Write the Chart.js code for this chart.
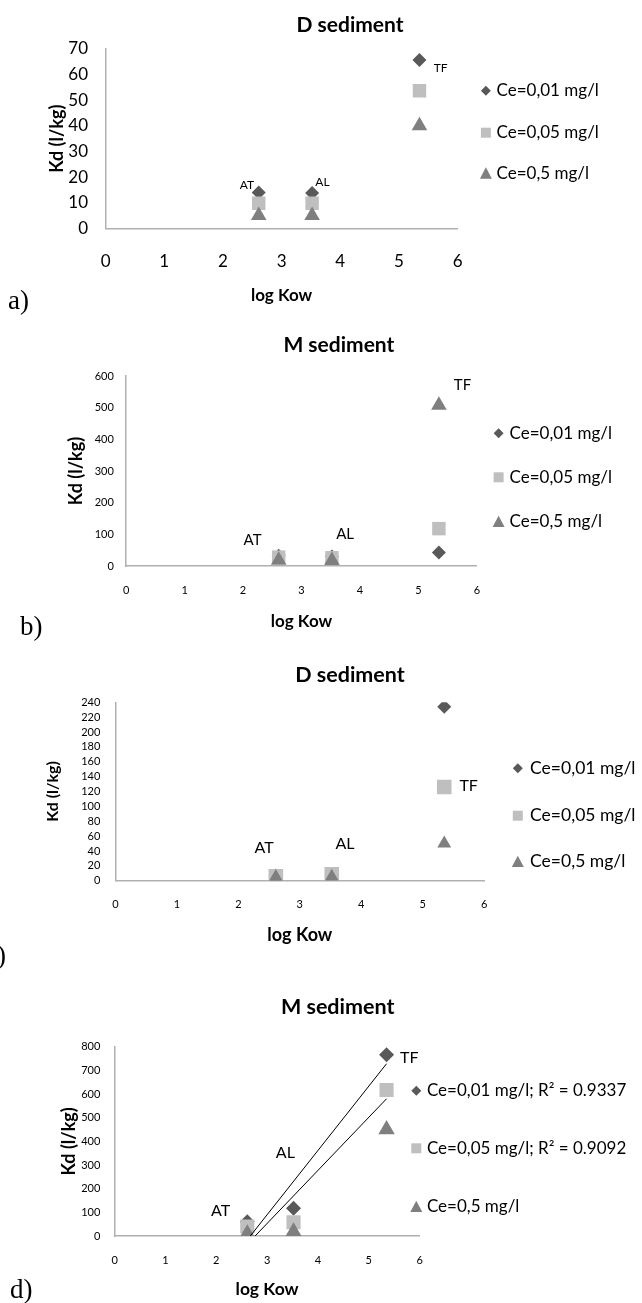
<!DOCTYPE html>
<html>
<head>
<meta charset="utf-8">
<title>Kd vs log Kow</title>
<script src="https://cdn.jsdelivr.net/npm/chart.js@4.4.1/dist/chart.umd.min.js"></script>
<style>
  body { margin: 0; background: #fff; width: 642px; height: 1303px; position: relative; overflow: hidden; }
  canvas { position: absolute; left: 0; }
</style>
</head>
<body>
<canvas id="chartA" width="642" height="320" style="top:0px"></canvas>
<canvas id="chartB" width="642" height="340" style="top:320px"></canvas>
<canvas id="chartC" width="642" height="315" style="top:660px"></canvas>
<canvas id="chartD" width="642" height="343" style="top:960px"></canvas>
<script>
// compounds and their log Kow
const compounds = ["AT", "AL", "TF"];
const logKow = [2.61, 3.52, 5.35];

const seriesNames = ["Ce=0,01 mg/l", "Ce=0,05 mg/l", "Ce=0,5 mg/l"];
const seriesNamesFit = ["Ce=0,01 mg/l; R\u00b2 = 0.9337", "Ce=0,05 mg/l; R\u00b2 = 0.9092", "Ce=0,5 mg/l"];

// a) D sediment
const kdA001 = [14, 13.8, 65.7];
const kdA005 = [9.8, 9.8, 53.7];
const kdA05 = [5, 5, 40];
// b) M sediment
const kdB001 = [32, 30, 43];
const kdB005 = [28, 26, 118];
const kdB05 = [18, 17, 508];
// c) D sediment
const kdC001 = [7, 9, 234];
const kdC005 = [6, 8.6, 126];
const kdC05 = [5, 5.4, 50];
// d) M sediment
const kdD001 = [60, 117, 766];
const kdD005 = [40, 58, 617];
const kdD05 = [10, 18, 450];

const FONT = "Lato";
const markerStyles = ["rectRot", "rect", "triangle"];
const markerColors = ["#595959", "#bfbfbf", "#7f7f7f"];
const axisColor = "#b0b0b0";

// least squares line over the x range of the data (excel linear trendline)
function trendLine(xs, ys) {
    const n = xs.length;
    const mx = xs.reduce((s, v) => s + v, 0) / n;
    const my = ys.reduce((s, v) => s + v, 0) / n;
    let sxy = 0, sxx = 0;
    xs.forEach((x, i) => {
        sxy += (x - mx) * (ys[i] - my);
        sxx += (x - mx) * (x - mx);
    });
    const slope = sxy / sxx;
    const b = my - slope * mx;
    return [xs[0], xs[n - 1]].map(x => ({ x: x, y: b + slope * x }));
}

function legendMarker(ctx, style, x, y, r) {
    ctx.beginPath();
    if (style === "rectRot") {
        ctx.moveTo(x, y - r); ctx.lineTo(x + r, y); ctx.lineTo(x, y + r); ctx.lineTo(x - r, y);
    } else if (style === "rect") {
        ctx.rect(x - r, y - r, 2 * r, 2 * r);
    } else {
        ctx.moveTo(x, y - r); ctx.lineTo(x + r, y + r * 0.9); ctx.lineTo(x - r, y + r * 0.9);
    }
    ctx.closePath();
    ctx.fill();
}

// title, legend, compound labels and panel letter
function overlay(p) {
    return {
        id: "overlay",
        afterDraw(chart) {
            const ctx = chart.ctx;
            const top = p.top;
            ctx.save();
            ctx.fillStyle = "#000";
            ctx.textBaseline = "middle";

            ctx.textAlign = "center";
            ctx.font = "bold " + p.titleSize + "px " + FONT;
            ctx.fillText(p.title, p.titleX, p.titleY - top);

            p.legendY.forEach((ly, i) => {
                ctx.fillStyle = markerColors[i];
                legendMarker(ctx, markerStyles[i], p.legendX, ly - top, p.legendR[i]);
                ctx.fillStyle = "#000";
                ctx.textAlign = "left";
                ctx.font = p.legendSize + "px " + FONT;
                ctx.fillText(p.names[i], p.legendTextX, ly - top);
            });

            const xs = chart.scales.x, ys = chart.scales.y;
            ctx.textAlign = "center";
            ctx.font = p.labelSize + "px " + FONT;
            p.labels.forEach(([si, dx, dy], i) => {
                const px = xs.getPixelForValue(logKow[i]) + dx;
                const py = ys.getPixelForValue(p.series[si][i]) + dy;
                ctx.fillText(compounds[i], px, py);
            });

            ctx.textAlign = "left";
            ctx.font = p.letterSize + "px 'Liberation Serif'";
            ctx.fillText(p.letter, p.letterX, p.letterY - top);
            ctx.restore();
        }
    };
}

function makePanel(id, p) {
    const a = p.area;
    const tickLh = p.tickSize * 1.2;
    const xTitleLh = p.xTitleSize * 1.2;
    const yTitleLh = p.yTitleSize * 1.2;
    const xScaleH = p.xTitleY - a.bottom + xTitleLh / 2;

    const datasets = p.series.map((vals, i) => ({
        label: p.names[i],
        data: vals.map((v, j) => ({ x: logKow[j], y: v })),
        pointStyle: markerStyles[i],
        pointRadius: p.markerR[i],
        backgroundColor: markerColors[i],
        borderColor: markerColors[i],
        borderWidth: 0,
        order: 2 - i
    }));
    (p.fits || []).forEach(si => {
        datasets.push({
            label: "trend " + si,
            data: trendLine(logKow, p.series[si]),
            showLine: true,
            pointRadius: 0,
            borderColor: "#000",
            borderWidth: 1,
            order: -1
        });
    });

    new Chart(document.getElementById(id), {
        type: "scatter",
        data: { datasets: datasets },
        options: {
            responsive: false,
            animation: false,
            events: [],
            layout: {
                padding: {
                    left: 0,
                    top: a.top - p.top,
                    right: 642 - a.right,
                    bottom: p.height - (a.bottom - p.top) - xScaleH
                }
            },
            plugins: { legend: { display: false }, tooltip: { enabled: false } },
            scales: {
                x: {
                    type: "linear",
                    min: 0, max: 6,
                    ticks: {
                        stepSize: 1, maxRotation: 0, color: "#000",
                        font: { family: FONT, size: p.tickSize },
                        padding: p.xTickY - a.bottom - tickLh / 2
                    },
                    grid: { display: false, drawTicks: false },
                    border: { color: axisColor, width: 1.5 },
                    title: {
                        display: true, text: "log Kow", color: "#000",
                        font: { family: FONT, size: p.xTitleSize, weight: "bold" },
                        padding: { top: 0, bottom: 0 }
                    },
                    afterFit(s) { s.height = xScaleH; }
                },
                y: {
                    min: 0, max: p.yMax,
                    ticks: {
                        stepSize: p.yStep, autoSkip: false, color: "#000",
                        font: { family: FONT, size: p.tickSize },
                        padding: a.left - p.yTickRight
                    },
                    grid: { display: false, drawTicks: false },
                    border: { color: axisColor, width: 1.5 },
                    title: {
                        display: true, text: "Kd (l/kg)", color: "#000",
                        font: { family: FONT, size: p.yTitleSize, weight: "bold" },
                        padding: { top: p.yTitleX - yTitleLh / 2, bottom: 0 }
                    },
                    afterFit(s) { s.width = a.left; }
                }
            }
        },
        plugins: [overlay(p)]
    });
}

makePanel("chartA", {
    top: 0, height: 320,
    area: { left: 105.6, right: 457.6, top: 49, bottom: 228.3 },
    series: [kdA001, kdA005, kdA05], names: seriesNames,
    yMax: 70, yStep: 10,
    tickSize: 17, yTickRight: 88, xTickY: 261.7,
    xTitleSize: 17, xTitleY: 296, yTitleSize: 18, yTitleX: 57.3,
    title: "D sediment", titleSize: 21, titleX: 350, titleY: 25,
    markerR: [7, 9.5, 9],
    legendX: 485.9, legendTextX: 496.5, legendY: [90.7, 132.7, 173.3], legendR: [5, 5, 6], legendSize: 17,
    labelSize: 12, labels: [[0, -11.9, -7.3], [0, 10.3, -10.4], [0, 21.2, 8.3]],
    letter: "a)", letterSize: 27, letterX: 8, letterY: 302
});

makePanel("chartB", {
    top: 320, height: 340,
    area: { left: 126.1, right: 476.9, top: 376, bottom: 566 },
    series: [kdB001, kdB005, kdB05], names: seriesNames,
    yMax: 600, yStep: 100,
    tickSize: 11, yTickRight: 113.8, xTickY: 590,
    xTitleSize: 17, xTitleY: 621.7, yTitleSize: 18, yTitleX: 75.7,
    title: "M sediment", titleSize: 21, titleX: 338.9, titleY: 345,
    markerR: [7, 9.5, 9],
    legendX: 498.6, legendTextX: 509.6, legendY: [433.3, 477.3, 521.7], legendR: [5, 5, 6], legendSize: 17,
    labelSize: 15, labels: [[1, -26.1, -17.1], [1, 13.2, -23.5], [2, 23.6, -20.1]],
    letter: "b)", letterSize: 27, letterX: 20, letterY: 628.3
});

makePanel("chartC", {
    top: 660, height: 315,
    area: { left: 115.4, right: 484.2, top: 702.3, bottom: 880.7 },
    series: [kdC001, kdC005, kdC05], names: seriesNames,
    yMax: 240, yStep: 20,
    tickSize: 11, yTickRight: 100.3, xTickY: 904,
    xTitleSize: 18, xTitleY: 935, yTitleSize: 16, yTitleX: 53.2,
    title: "D sediment", titleSize: 21.5, titleX: 350, titleY: 675,
    markerR: [7, 10.3, 8],
    legendX: 517.8, legendTextX: 530.1, legendY: [768.3, 815.7, 861.7], legendR: [5, 5, 6], legendSize: 17.5,
    labelSize: 16, labels: [[1, -11.8, -27.9], [1, 13.3, -30], [1, 24.4, -1]],
    letter: "c)", letterSize: 27, letterX: -15, letterY: 957
});

makePanel("chartD", {
    top: 960, height: 343,
    area: { left: 114.6, right: 419.6, top: 1046.7, bottom: 1236 },
    series: [kdD001, kdD005, kdD05], names: seriesNamesFit, fits: [0, 1],
    yMax: 800, yStep: 100,
    tickSize: 11, yTickRight: 100.3, xTickY: 1260,
    xTitleSize: 17.5, xTitleY: 1289.3, yTitleSize: 18, yTitleX: 69.6,
    title: "M sediment", titleSize: 21.5, titleX: 337.7, titleY: 1006.7,
    markerR: [7.5, 10, 9.5],
    legendX: 416.3, legendTextX: 426.9, legendY: [1090.7, 1148.3, 1206.7], legendR: [5, 5, 6], legendSize: 17,
    labelSize: 16, labels: [[0, -26.7, -11.1], [0, -8.2, -55], [0, 22.8, 2.6]],
    letter: "d)", letterSize: 27, letterX: 10, letterY: 1290.7
});
</script>
</body>
</html>
